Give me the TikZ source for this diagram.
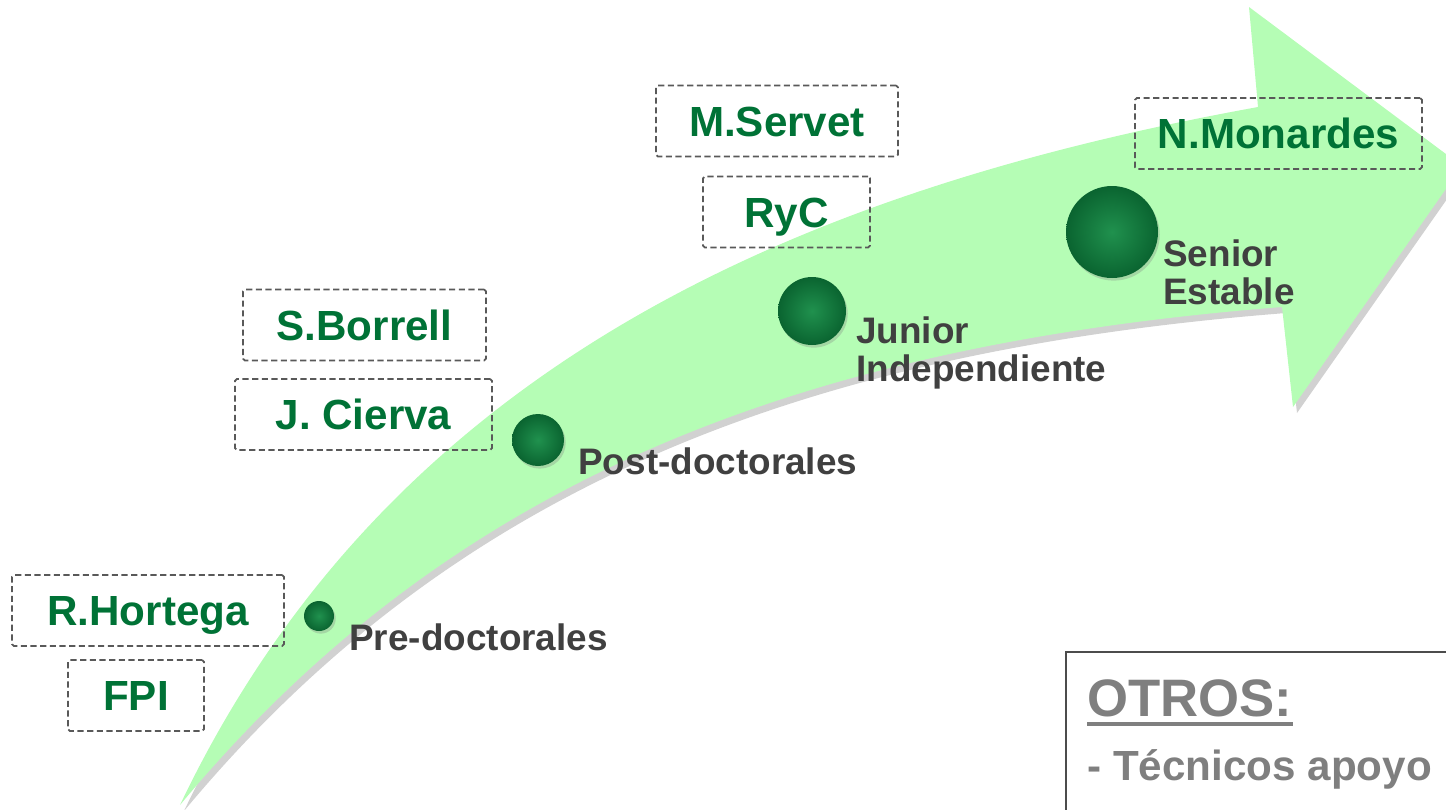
\documentclass[tikz,border=0pt]{standalone}
\usepackage{fontspec}
\setmainfont{Liberation Sans}
\usepackage{tikz}
\usetikzlibrary{positioning}
\usetikzlibrary{shadows}
\usepackage{xcolor}

\definecolor{bandgreen}{RGB}{181,253,181}
\definecolor{grantgreen}{RGB}{0,114,54}
\definecolor{stagegray}{RGB}{64,64,64}
\definecolor{othergray}{RGB}{127,127,127}

\begin{document}
\begin{tikzpicture}[x=0.02cm,y=-0.02cm]

\tikzstyle{every node}=[inner sep=0pt]
\tikzstyle{grant}=[draw=black!65, line width=1pt, dash pattern=on 3.5pt off 2pt,
  rounded corners=1pt, text=grantgreen, minimum height=1.42cm,
  font=\fontsize{24}{28}\bfseries\selectfont, text height=17.2pt, text depth=0pt]
\tikzstyle{stage}=[text=stagegray, align=left, anchor=north west,
  font=\fontsize{21}{21.6}\bfseries\selectfont]
\tikzstyle{ball}=[circle, inner color={rgb,255:red,32;green,145;blue,78},
  outer color={rgb,255:red,10;green,100;blue,48},
  drop shadow={opacity=0.3, shadow xshift=1pt, shadow yshift=-1.5pt}]

\def\band{(180,805) .. controls (390,365) and (800,190) .. (1258,107)
  -- (1249,7) -- (1462,166) -- (1293,407) -- (1282,307)
  .. controls (800,345) and (450,480) .. cycle}

\useasboundingbox (0,0) rectangle (1446,809);
\clip (0,0) rectangle (1446,809);

% arrow
\fill[black, opacity=0.18, shift={(4,6)}] \band;
\fill[bandgreen] \band;

% stages
\node[ball, minimum size=0.6cm] (pre) at (319,616) {};
\node[ball, minimum size=1.04cm] (post) at (538,440) {};
\node[ball, minimum size=1.36cm] (junior) at (812,311) {};
\node[ball, minimum size=1.84cm] (senior) at (1112,232) {};

\node[stage] (prelab) at (349,623) {Pre-doctorales};
\node[stage] (postlab) at (578,447) {Post-doctorales};
\node[stage] (juniorlab) at (856,316) {Junior\\Independiente};
\node[stage] (seniorlab) at (1163,239) {Senior\\Estable};

% grants
\node[grant, minimum width=4.84cm] (servet) at (777,121) {M.Servet};
\node[grant, minimum width=3.34cm] (ryc) at (786.5,212) {RyC};
\node[grant, minimum width=4.86cm] (borrell) at (364.5,325) {S.Borrell};
\node[grant, minimum width=5.14cm] (cierva) at (363.5,414.5) {J. Cierva};
\node[grant, minimum width=5.44cm] (hortega) at (148,610.5) {R.Hortega};
\node[grant, minimum width=2.72cm] (fpi) at (136,695.5) {FPI};
\node[grant, minimum width=5.74cm] (monardes) at (1278.5,133.5) {N.Monardes};

% otros
\draw[black!70, line width=1.2pt] (1460,652) -- (1066,652) -- (1066,820);
\node[text=othergray, anchor=base west, font=\fontsize{30}{34}\bfseries\selectfont]
  (otros) at (1087,716) {OTROS:};
\draw[othergray, line width=2.3pt] ([yshift=-4.5pt]otros.base west) -- ([yshift=-4.5pt]otros.base east);
\node[text=othergray, anchor=base west, font=\fontsize{24}{28}\bfseries\selectfont]
  (tecnicos) at (1087,780) {- Técnicos apoyo};

\end{tikzpicture}
\end{document}
